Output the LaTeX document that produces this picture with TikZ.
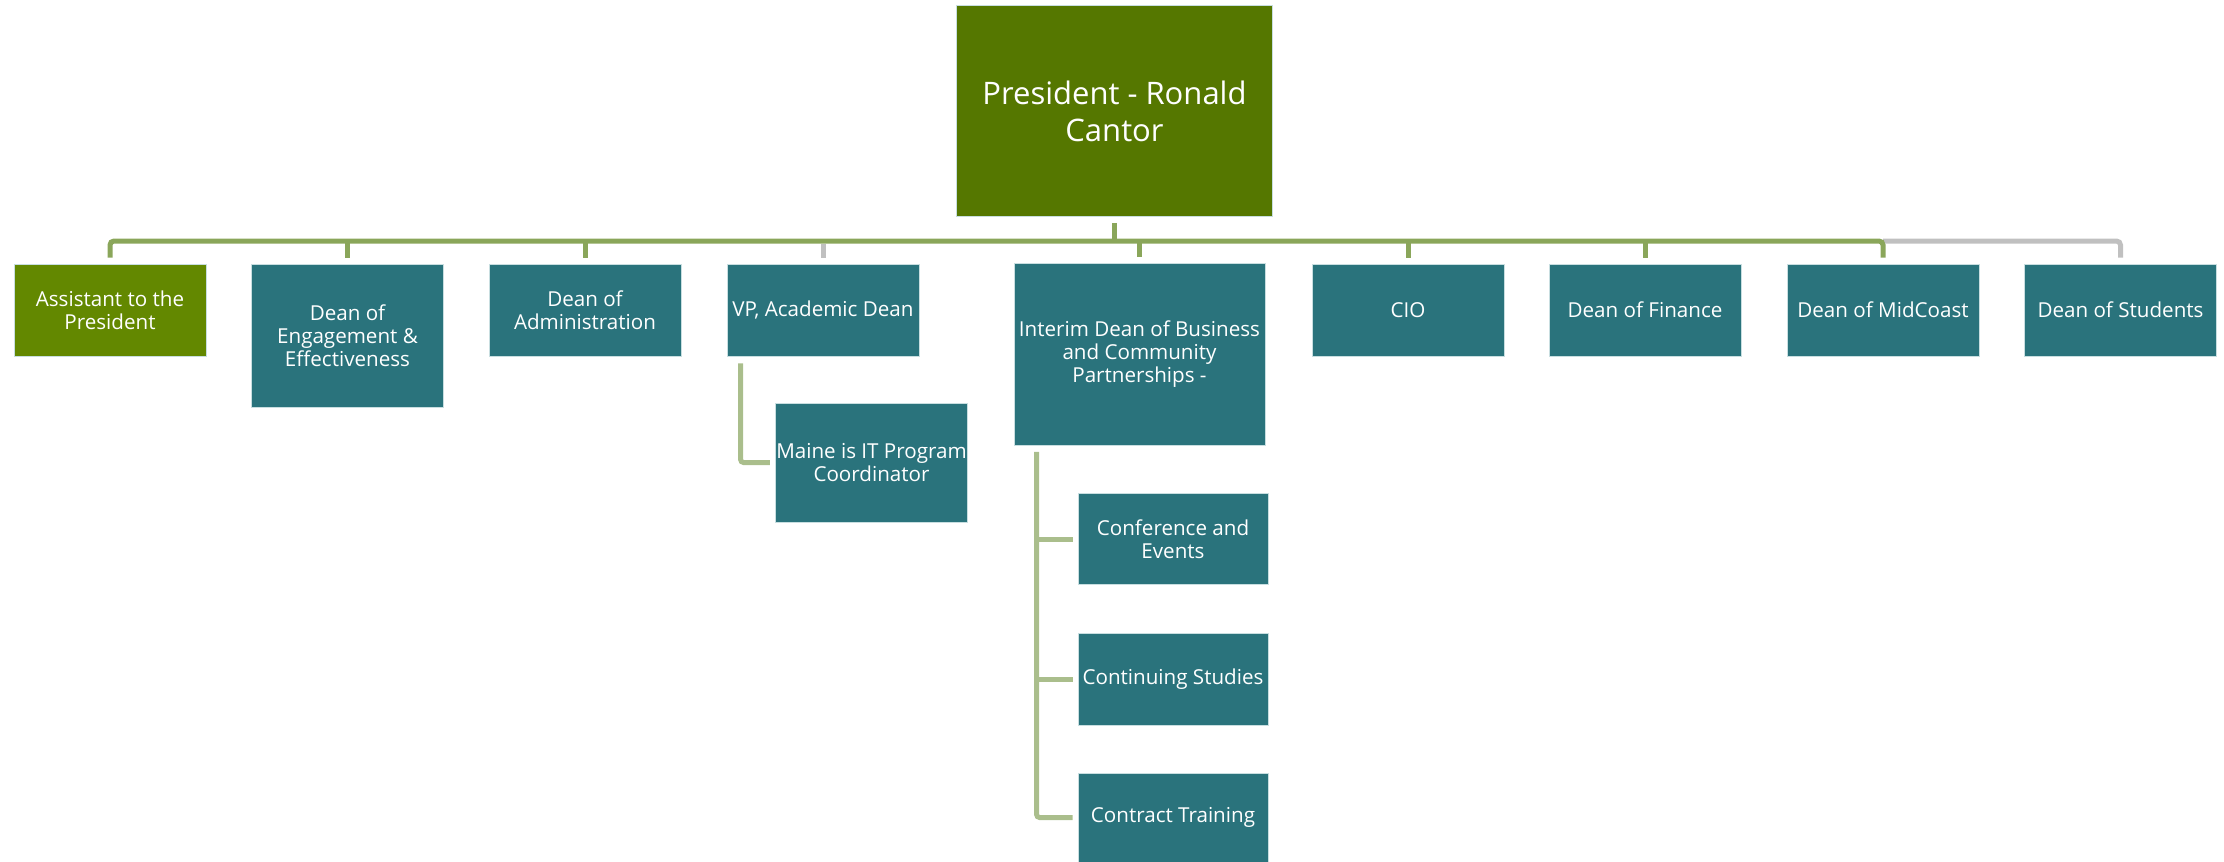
\documentclass[tikz,border=0pt]{standalone}
\usepackage{fontspec}
\setmainfont{Open Sans}
\usepackage{xcolor}
\usepackage{tikz}

\definecolor{presgreen}{RGB}{85,119,0}
\definecolor{asstgreen}{RGB}{99,136,0}
\definecolor{deanteal}{RGB}{42,115,124}
\definecolor{boxedge}{RGB}{200,222,224}
\definecolor{bargreen}{RGB}{138,166,90}
\definecolor{bargrey}{RGB}{192,192,192}
\definecolor{subgreen}{RGB}{170,190,140}

\begin{document}
\begin{tikzpicture}[x=0.5pt, y=-0.5pt,
        box/.style={fill=deanteal, draw=boxedge, line width=0.4pt, text=white, align=center,
            font=\fontsize{10.3}{11.5}\selectfont, minimum width=96pt, minimum height=46pt, inner sep=0.5pt},
        bar/.style={draw=bargreen, line width=2.5pt, rounded corners=2pt},
        greybar/.style={draw=bargrey, line width=2.5pt, rounded corners=2pt},
        sub/.style={draw=subgreen, line width=2.5pt, rounded corners=1.5pt}]
        \useasboundingbox (0,0) rectangle (2224,862);
        % top
        \node[box, fill=presgreen, minimum width=158pt, minimum height=105.5pt,
            font=\fontsize{15.5}{18.5}\selectfont] (pres) at (1114.5,111) {President - Ronald\\Cantor};
        % first row
        \node[box, fill=asstgreen] (asst) at (110,310) {Assistant to the\\President};
        \node[box, minimum height=71.5pt] (eng) at (347.5,335.5) {Dean of\\Engagement \&\\Effectiveness};
        \node[box] (admin) at (585,310) {Dean of\\Administration};
        \node[box] (vp) at (823,310) {VP, Academic Dean};
        \node[box, minimum width=125.5pt, minimum height=91pt] (interim) at (1139.5,354.5)
            {Interim Dean of Business\\and Community\\Partnerships -};
        \node[box] (cio) at (1408,310) {CIO};
        \node[box] (fin) at (1645,310) {Dean of Finance};
        \node[box] (mid) at (1883,310) {Dean of MidCoast};
        \node[box] (stud) at (2120.5,310) {Dean of Students};
        % below
        \node[box, minimum width=95.5pt, minimum height=59.5pt] (maine) at (871.5,462.5)
            {Maine is IT Program\\Coordinator};
        \node[box, minimum width=95pt, minimum height=45.5pt] (conf) at (1173,539) {Conference and\\Events};
        \node[box, minimum width=95pt] (cont) at (1173,679) {Continuing Studies};
        \node[box, minimum width=95pt, minimum height=44.5pt] (contract) at (1173,817.5) {Contract Training};

        % connectors
        \coordinate (bus) at (0,241);
        \draw[greybar] (mid.north |- bus) -- (stud.north |- bus) -- ([yshift=3pt]stud.north);
        \draw[greybar] ([yshift=-1.5pt]vp.north |- bus) -- ([yshift=3pt]vp.north);
        \draw[bar] ([yshift=3pt]asst.north) -- (asst.north |- bus) -- (mid.north |- bus) -- ([yshift=3pt]mid.north);
        \draw[bar] ([yshift=-3pt]pres.south) -- (pres.south |- bus);
        \foreach \n in {eng, admin, interim, cio, fin}
            \draw[bar] (\n.north |- bus) -- ([yshift=3pt]\n.north);

        \draw[sub] ([xshift=7pt, yshift=-3.5pt]vp.south west) |- ([xshift=-2.5pt]maine.west);
        \coordinate (spine) at ([xshift=11.5pt, yshift=-3pt]interim.south west);
        \draw[sub] (spine) |- ([xshift=-2.5pt]contract.west);
        \draw[sub] (spine |- conf.west) -- ([xshift=-2.5pt]conf.west);
        \draw[sub] (spine |- cont.west) -- ([xshift=-2.5pt]cont.west);
    \end{tikzpicture}
\end{document}
